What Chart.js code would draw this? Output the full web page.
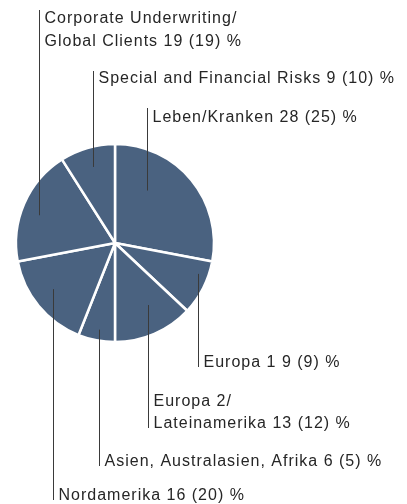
<!DOCTYPE html>
<html>
<head>
<meta charset="utf-8">
<script src="https://cdn.jsdelivr.net/npm/chart.js@4"></script>
<style>
  html, body { margin: 0; padding: 0; background: #fff; }
  canvas { display: block; }
</style>
</head>
<body>
<canvas id="pie" width="407" height="504"></canvas>
<script>
// Segment names (line breaks as in the original), current share and previous year in brackets
const categories = [
    ['Leben/Kranken'],
    ['Europa 1'],
    ['Europa 2/', 'Lateinamerika'],
    ['Asien, Australasien, Afrika'],
    ['Nordamerika'],
    ['Corporate Underwriting/', 'Global Clients'],
    ['Special and Financial Risks']
];
const shares = [28, 9, 13, 6, 16, 19, 9];
const prevShares = [25, 9, 12, 5, 20, 19, 10];

// Where each leader line leaves its slice (fraction of slice angle, fraction of radius)
// and where its label sits
const callouts = [
    { at: 0.31, r: 0.62, lineEnd: 108, baseline: 122 },
    { at: 0.30, r: 0.89, lineEnd: 367, baseline: 366.5 },
    { at: 0.40, r: 0.71, lineEnd: 428, baseline: 405.7 },
    { at: 0.48, r: 0.89, lineEnd: 466, baseline: 466 },
    { at: 0.55, r: 0.78, lineEnd: 500, baseline: 500 },
    { at: 0.45, r: 0.82, lineEnd: 10, baseline: 23.3 },
    { at: 0.50, r: 0.80, lineEnd: 71, baseline: 82.7 }
];

const lineGap = 22.5;

function labelLines(i) {
    const lines = categories[i].slice();
    const last = lines.length - 1;
    lines[last] = lines[last] + ' ' + shares[i] + ' (' + prevShares[i] + ') %';
    return lines;
}

const calloutPlugin = {
    id: 'callouts',
    afterDatasetsDraw(chart) {
        const ctx = chart.ctx;
        const arcs = chart.getDatasetMeta(0).data;
        ctx.save();
        arcs.forEach((arc, i) => {
            const c = callouts[i];
            const a = arc.startAngle + c.at * (arc.endAngle - arc.startAngle);
            const rad = c.r * arc.outerRadius;
            const px = Math.round(arc.x + rad * Math.cos(a)) + 0.5;
            const py = arc.y + rad * Math.sin(a);

            ctx.strokeStyle = '#3a3a3a';
            ctx.lineWidth = 1;
            ctx.beginPath();
            ctx.moveTo(px, py);
            ctx.lineTo(px, c.lineEnd);
            ctx.stroke();

            ctx.fillStyle = '#262626';
            ctx.font = '16px "Liberation Sans", Arial, sans-serif';
            ctx.letterSpacing = '1px';
            ctx.textBaseline = 'alphabetic';
            ctx.textAlign = 'left';
            labelLines(i).forEach((t, k) => {
                ctx.fillText(t, px + 5, c.baseline + k * lineGap);
            });
        });
        ctx.restore();
    }
};

new Chart(document.getElementById('pie'), {
    type: 'pie',
    data: {
        labels: categories.map(c => c.join(' ')),
        datasets: [{
            data: shares,
            backgroundColor: '#4a6280',
            borderColor: '#ffffff',
            borderWidth: 2.5,
            hoverOffset: 0
        }]
    },
    options: {
        responsive: false,
        animation: false,
        radius: 99,
        layout: { padding: { left: 10, right: 187, top: 136, bottom: 154 } },
        plugins: {
            legend: { display: false },
            tooltip: { enabled: false }
        }
    },
    plugins: [calloutPlugin]
});
</script>
</body>
</html>
